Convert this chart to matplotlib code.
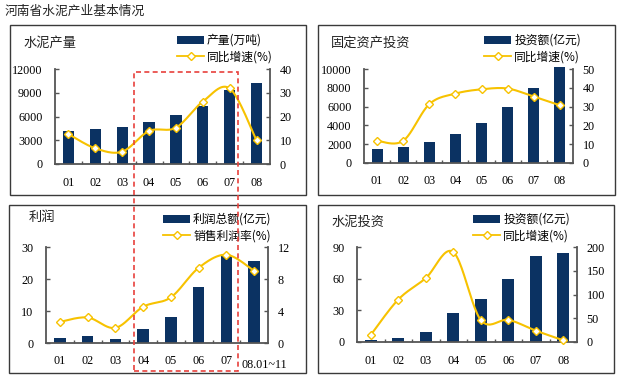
import numpy as np
import matplotlib
matplotlib.use('Agg')
import matplotlib.pyplot as plt
from matplotlib.patches import Rectangle
from matplotlib.lines import Line2D
import matplotlib.transforms as mtrans

# ---------------- data ----------------
categories = ['01', '02', '03', '04', '05', '06', '07', '08']
profit_categories = ['01', '02', '03', '04', '05', '06', '07', '08.01~11']

cement_output = [4150, 4370, 4710, 5260, 6230, 7290, 9330, 10180]          # 万吨
cement_output_growth = [12.6, 6.6, 5.2, 13.9, 15.3, 26.3, 31.8, 9.9]      # %
fixed_investment = [1520, 1730, 2260, 3110, 4280, 5940, 7950, 10200]       # 亿元
fixed_investment_growth = [11.8, 11.8, 31.3, 36.9, 39.2, 39.6, 35.3, 30.7]
profit_total = [1.7, 2.2, 1.4, 4.4, 8.0, 17.4, 27.1, 25.6]                 # 亿元
profit_margin = [2.64, 3.19, 1.89, 4.53, 5.71, 9.40, 11.03, 9.02]          # %
cement_investment = [1.6, 3.5, 9.2, 27.9, 40.6, 59.3, 81.4, 84.6]          # 亿元
cement_investment_growth = [14.8, 89.4, 134.5, 189.4, 46.5, 46.5, 23.9, 3.5]

main_title = '河南省水泥产业基本情况'

# ---------------- style ----------------
W, H = 620, 378
NAVY = '#0B3262'
GOLD = '#F7C200'
AXC = '#555555'
CJK = ['Noto Sans CJK SC', 'DejaVu Sans']
SERIF = ['Liberation Serif', 'DejaVu Serif']
plt.rcParams['font.family'] = CJK

fig = plt.figure(figsize=(W / 100, H / 100), dpi=100)


def fx(x):
    return x / W


def fy(y):
    return 1 - y / H


def smooth(x, y, n=24):
    P = np.column_stack([np.asarray(x, float), np.asarray(y, float)])
    P = np.vstack([P[0], P, P[-1]])
    t = np.linspace(0, 1, n)[:, None]
    segs = []
    for i in range(1, len(P) - 2):
        p0, p1, p2, p3 = P[i - 1], P[i], P[i + 1], P[i + 2]
        c = 0.5 * (2 * p1 + (-p0 + p2) * t + (2 * p0 - 5 * p1 + 4 * p2 - p3) * t ** 2
                   + (-p0 + 3 * p1 - 3 * p2 + p3) * t ** 3)
        segs.append(c if i == 1 else c[1:])
    S = np.vstack(segs)
    return S[:, 0], S[:, 1]


def panel(frame, axbox, cats, bars, line, ylim1, yt1, ylim2, yt2,
          title, title_xy, labels, leg_xy, last_label_shift=False, clip=True):
    l, t, r, b = frame
    fig.add_artist(Rectangle((fx(l), fy(b)), fx(r - l), (b - t) / H,
                             transform=fig.transFigure, fill=False,
                             edgecolor='#3a3a3a', lw=1.0))
    al, at, ar, ab = axbox
    ax = fig.add_axes([fx(al), fy(ab), fx(ar - al), (ab - at) / H])
    x = np.arange(len(cats))
    bc = ax.bar(x, bars, width=0.42, color=NAVY, zorder=2, clip_on=clip)
    ax.set_xlim(-0.5, len(cats) - 0.5)
    ax.set_ylim(*ylim1)
    ax.set_yticks(yt1)
    ax.set_yticklabels([str(v) for v in yt1], family=SERIF, fontsize=8.7)
    ax.set_xticks(x)
    ax.set_xticklabels(cats, family=SERIF, fontsize=8.7)
    ax.set_xticks(np.arange(len(cats) - 1) + 0.5, minor=True)
    ax.tick_params(axis='x', which='major', length=0, pad=9)
    ax.tick_params(axis='x', which='minor', direction='in', length=2.5,
                   color=AXC, width=1)
    ax.tick_params(axis='y', direction='in', length=3, color=AXC, width=1, pad=9)
    for s in ['top', 'right']:
        ax.spines[s].set_visible(False)
    for s in ['left', 'bottom']:
        ax.spines[s].set_color(AXC)
        ax.spines[s].set_linewidth(1.3)

    ax2 = ax.twinx()
    sx, sy = smooth(x, line)
    ax2.plot(sx, sy, color=GOLD, lw=1.5, zorder=3, clip_on=False)
    ax2.plot(x, line, linestyle='none', marker='D', markersize=4.5,
             mfc='white', mec=GOLD, mew=1.0, zorder=4, clip_on=False)
    ax2.set_ylim(*ylim2)
    ax2.set_yticks(yt2)
    ax2.set_yticklabels([str(v) for v in yt2], family=SERIF, fontsize=8.7)
    ax2.tick_params(axis='y', direction='in', length=3, color=AXC, width=1, pad=7)
    for s in ['top', 'left', 'bottom']:
        ax2.spines[s].set_visible(False)
    ax2.spines['right'].set_color(AXC)
    ax2.spines['right'].set_linewidth(1.3)

    if last_label_shift:
        lab = ax.get_xticklabels()[-1]
        lab.set_transform(lab.get_transform() +
                          mtrans.ScaledTranslation(10 / 100, -3 / 100, fig.dpi_scale_trans))

    fig.text(fx(title_xy[0]), fy(title_xy[1]), title, fontsize=9.5,
             ha='left', va='center', color='#222222')

    h_line = Line2D([], [], color=GOLD, lw=1.3, marker='D', markersize=4.2,
                    mfc='white', mec=GOLD, mew=1.0)
    fig.legend([bc, h_line], labels, loc='upper left',
               bbox_to_anchor=(fx(leg_xy[0]), fy(leg_xy[1])),
               bbox_transform=fig.transFigure, frameon=False,
               fontsize=8.5, handlelength=2.3, handleheight=0.7,
               handletextpad=0.25, labelspacing=0.3, borderpad=0,
               borderaxespad=0)
    return ax, ax2


fig.text(fx(5), fy(11), main_title, fontsize=9.2, ha='left', va='center',
         color='#222222')

panel((10, 25, 306, 195), (55, 69, 270, 164), categories, cement_output,
      cement_output_growth, (0, 12000), [0, 3000, 6000, 9000, 12000],
      (0, 40), [0, 10, 20, 30, 40], '水泥产量', (23, 43),
      ['产量(万吨)', '同比增速(%)'], (177, 34))

panel((318, 25, 615, 195), (364, 69, 573, 163), categories, fixed_investment,
      fixed_investment_growth, (0, 10000), [0, 2000, 4000, 6000, 8000, 10000],
      (0, 50), [0, 10, 20, 30, 40, 50], '固定资产投资', (331, 43),
      ['投资额(亿元)', '同比增速(%)'], (484, 34), clip=False)

panel((9, 205, 306, 373), (46, 247, 268, 343), profit_categories, profit_total,
      profit_margin, (0, 30), [0, 10, 20, 30],
      (0, 12), [0, 4, 8, 12], '利润', (29, 217),
      ['利润总额(亿元)', '销售利润率(%)'], (163, 213), last_label_shift=True)

panel((318, 205, 614, 373), (357, 247, 577, 342), categories, cement_investment,
      cement_investment_growth, (0, 90), [0, 30, 60, 90],
      (0, 200), [0, 50, 100, 150, 200], '水泥投资', (331, 222),
      ['投资额(亿元)', '同比增速(%)'], (473, 213))

# highlighted period (04-07) dashed box spanning the left panels
fig.add_artist(Rectangle((fx(134), fy(371)), fx(238 - 134), (371 - 72) / H,
                         transform=fig.transFigure, fill=False,
                         edgecolor='#E8413C', lw=1.2, linestyle=(0, (3, 2)),
                         zorder=10))

fig.savefig('out.png', dpi=100)
